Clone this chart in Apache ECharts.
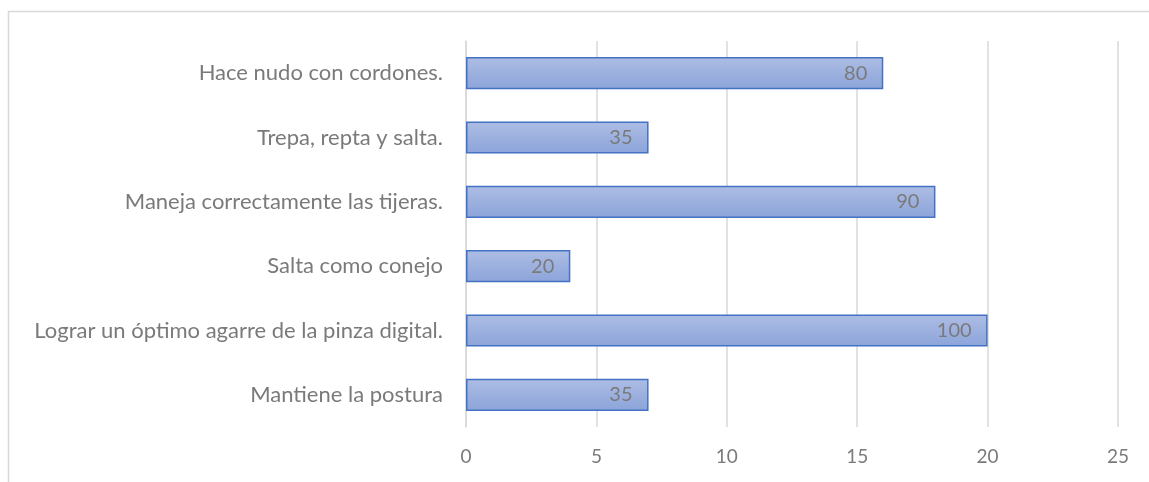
<!DOCTYPE html>
<html>
<head>
<meta charset="utf-8">
<script src="https://cdn.jsdelivr.net/npm/echarts@6/dist/echarts.min.js"></script>
<style>html,body{margin:0;padding:0;background:#fff}#c{width:1149px;height:482px}</style>
</head>
<body>
<div id="c"></div>
<script>
const categories = [
  "Mantiene la postura",
  "Lograr un óptimo agarre de la pinza digital.",
  "Salta como conejo",
  "Maneja correctamente las tijeras.",
  "Trepa, repta y salta.",
  "Hace nudo con cordones."
];
const values = [7, 20, 4, 18, 7, 16];
const dataLabels = [35, 100, 20, 90, 35, 80];
const xTicks = [0, 5, 10, 15, 20, 25];

const chart = echarts.init(document.getElementById('c'), null, {renderer: 'canvas'});
const font = 'Lato, "Open Sans", sans-serif';
chart.setOption({
  animation: false,
  graphic: [{
    type: 'rect',
    shape: {x: 8.5, y: 11.5, width: 1300, height: 700},
    style: {fill: 'none', stroke: '#d9d9d9', lineWidth: 1.5},
    silent: true
  }],
  grid: {left: 466, right: 31, top: 41, bottom: 55},
  xAxis: {
    type: 'value',
    min: xTicks[0],
    max: xTicks[xTicks.length - 1],
    interval: xTicks[1] - xTicks[0],
    axisLine: {show: false},
    axisTick: {show: false},
    splitLine: {lineStyle: {color: '#d9d9d9', width: 1.5}},
    axisLabel: {color: '#7a7a7a', fontSize: 19, fontFamily: font, margin: 20}
  },
  yAxis: {
    type: 'category',
    data: categories,
    axisLine: {show: true, lineStyle: {color: '#d9d9d9', width: 1.5}},
    axisTick: {show: false},
    axisLabel: {color: '#7a7a7a', fontSize: 22, fontFamily: font, margin: 23}
  },
  series: [{
    type: 'bar',
    data: values,
    barWidth: '50%',
    itemStyle: {
      color: new echarts.graphic.LinearGradient(0, 0, 0, 1, [
        {offset: 0, color: '#adbde4'},
        {offset: 1, color: '#8ca4da'}
      ]),
      borderColor: '#4472c4',
      borderWidth: 1.5
    },
    label: {
      show: true,
      position: 'insideRight',
      distance: 16,
      color: '#7a7a7a',
      fontSize: 20,
      fontFamily: font,
      formatter: p => String(dataLabels[p.dataIndex])
    }
  }]
});
</script>
</body>
</html>
